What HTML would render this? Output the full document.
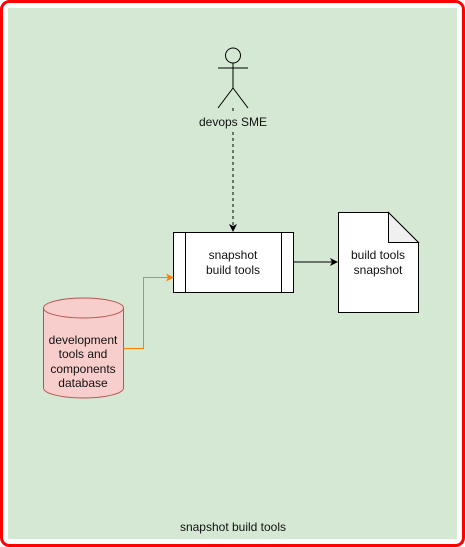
<!DOCTYPE html>
<html><head><style>
body{margin:0;background:#fff;}
svg{display:block;font-family:"Liberation Sans",Arial,sans-serif;font-size:12px;}
</style></head><body>
<svg width="465" height="547" viewBox="0 0 465 547">
<rect x="1.5" y="1.5" width="462" height="544" rx="8" fill="#fff" stroke="#ff0000" stroke-width="3"/>
<rect x="8" y="8" width="449" height="531" fill="#d5e8d4"/>
<g stroke="#000" fill="none" stroke-width="1">
<circle cx="233" cy="55.5" r="7.5"/>
<line x1="218" y1="68" x2="248" y2="68"/>
<line x1="233" y1="63" x2="233" y2="88"/>
<line x1="233" y1="88" x2="218" y2="108"/>
<line x1="233" y1="88" x2="248" y2="108"/>
<line x1="233" y1="108" x2="233" y2="226" stroke-dasharray="3,3"/>
<line x1="293" y1="262" x2="332" y2="262"/>
</g>
<path d="M229 224 L233 232 L237 224 L233 226 Z"/>
<path d="M330 258 L338 262 L330 266 L332 262 Z"/>
<rect x="198" y="114" width="70" height="16" fill="#d5e8d4"/>
<text x="233" y="126" text-anchor="middle" fill="#111">devops SME</text>
<rect x="173.5" y="232.5" width="120" height="60" fill="#fff" stroke="#000"/>
<line x1="185.5" y1="232.5" x2="185.5" y2="292.5" stroke="#000"/>
<line x1="281.5" y1="232.5" x2="281.5" y2="292.5" stroke="#000"/>
<text x="233" y="259" text-anchor="middle" fill="#111">snapshot</text>
<text x="233" y="274" text-anchor="middle" fill="#111">build tools</text>
<path d="M338.5 212.5 H388.5 L418.5 242.5 V312.5 H338.5 Z" fill="#fff" stroke="#000"/>
<path d="M388.5 212.5 V242.5 H418.5 Z" fill="#f0f0f0" stroke="#000"/>
<text x="378" y="259" text-anchor="middle" fill="#111">build tools</text>
<text x="378" y="274" text-anchor="middle" fill="#111">snapshot</text>
<path d="M43.5 308 A40 10 0 0 1 123.5 308 V388 A40 10 0 0 1 43.5 388 Z" fill="#f8cecc" stroke="#b85450"/>
<path d="M43.5 308 A40 10 0 0 0 123.5 308" fill="none" stroke="#b85450"/>
<g text-anchor="middle" fill="#111">
<text x="83" y="344">development</text>
<text x="83" y="358">tools and</text>
<text x="83" y="373">components</text>
<text x="83" y="387">database</text>
</g>
<path d="M123.5 348.5 H143.5 V277.5 H168" fill="none" stroke="#ff8000"/>
<path d="M166 273.5 L174 277.5 L166 281.5 L168 277.5 Z" fill="#ff8000"/>
<text x="233" y="531" text-anchor="middle" fill="#111">snapshot build tools</text>
</svg>
</body></html>
